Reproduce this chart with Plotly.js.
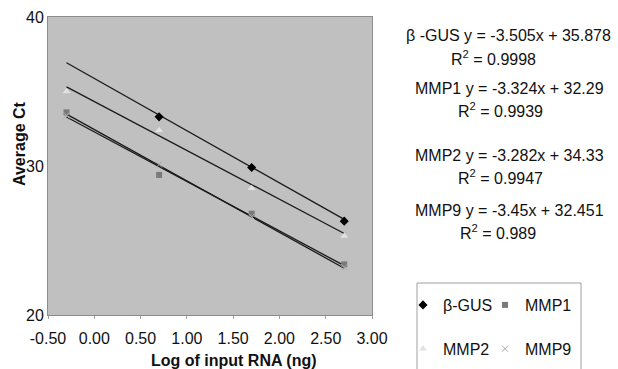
<!DOCTYPE html>
<html>
<head>
<meta charset="utf-8">
<script src="https://cdn.plot.ly/plotly-3.0.1.min.js"></script>
<style>html,body{margin:0;padding:0;background:#fff;}#chart{width:618px;height:369px;}</style>
</head>
<body>
<div id="chart"></div>
<script>
// ---- data ----
var logRNA = [-0.3, 0.7, 1.7, 2.7];
var gusCt  = [null, 33.3, 29.9, 26.3];
var mmp1Ct = [33.6, 29.4, 26.8, 23.4];
var mmp2Ct = [35.0, 32.4, 28.5, 25.3];
var mmp9Ct = [33.4, 30.1, 26.6, 23.2];

var seriesNames = ['β-GUS', 'MMP1', 'MMP2', 'MMP9'];
var eqLabels    = ['β -GUS', 'MMP1', 'MMP2', 'MMP9'];
var slopes      = [-3.505, -3.324, -3.282, -3.45];
var intercepts  = [35.878, 32.29, 34.33, 32.451];
var rSquared    = [0.9998, 0.9939, 0.9947, 0.989];

var xTickVals = [-0.5, 0, 0.5, 1, 1.5, 2, 2.5, 3];
var xTickText = ['-0.50', '0.00', '0.50', '1.00', '1.50', '2.00', '2.50', '3.00'];
var yTickVals = [20, 30, 40];

// ---- layout helpers (pixel -> paper) ----
var L = 48, R = 372, T = 17, B = 315;
function px(x) { return (x - L) / (R - L); }
function py(y) { return (B - y) / (B - T); }

var FONT = 'Liberation Sans, Arial, sans-serif';
var allCt = [gusCt, mmp1Ct, mmp2Ct, mmp9Ct];
var markers = [
  {symbol: 'diamond', color: '#000000', size: 7},
  {symbol: 'square', color: '#7a7a7a', size: 6},
  {symbol: 'triangle-up', color: '#e2e2e2', size: 7},
  {symbol: 'x-thin', color: '#a8a8a8', size: 6, line: {color: '#a8a8a8', width: 1}}
];
var legendOf = ['legend', 'legend2', 'legend', 'legend2'];

var traces = [];
// trendlines
for (var i = 0; i < 4; i++) {
  var x0 = logRNA[0], x1 = logRNA[logRNA.length - 1];
  traces.push({
    x: [x0, x1],
    y: [slopes[i] * x0 + intercepts[i], slopes[i] * x1 + intercepts[i]],
    mode: 'lines', type: 'scatter', showlegend: false, hoverinfo: 'skip',
    line: {color: '#1a1a1a', width: 1.3}
  });
}
// points
for (var j = 0; j < 4; j++) {
  traces.push({
    x: logRNA, y: allCt[j], name: seriesNames[j],
    mode: 'markers', type: 'scatter',
    marker: markers[j], legend: legendOf[j], legendgroup: 'g' + j
  });
}

var eqY = [35, 88, 155, 210];
var eqX = [508, 510, 510, 510];
var r2Y = [58, 110, 177, 232];
var r2X = [494, 500, 500, 498];
var annotations = [];
for (var k = 0; k < 4; k++) {
  annotations.push({
    xref: 'paper', yref: 'paper', x: px(eqX[k]), y: py(eqY[k]),
    xanchor: 'center', yanchor: 'middle', showarrow: false,
    text: eqLabels[k] + ' y = ' + String(slopes[k]) + 'x + ' + String(intercepts[k]),
    font: {family: FONT, size: 16, color: '#111'}
  });
  annotations.push({
    xref: 'paper', yref: 'paper', x: px(r2X[k]), y: py(r2Y[k]),
    xanchor: 'center', yanchor: 'middle', showarrow: false,
    text: 'R<sup>2</sup> = ' + String(rSquared[k]),
    font: {family: FONT, size: 16, color: '#111'}
  });
}
annotations.push({
  xref: 'paper', yref: 'paper', x: px(19), y: py(144), textangle: -90,
  xanchor: 'center', yanchor: 'middle', showarrow: false,
  text: '<b>Average Ct</b>', font: {family: FONT, size: 16, color: '#111'}
});
annotations.push({
  xref: 'paper', yref: 'paper', x: px(234), y: py(360),
  xanchor: 'center', yanchor: 'middle', showarrow: false,
  text: '<b>Log of input RNA (ng)</b>', font: {family: FONT, size: 16, color: '#111'}
});

var legendCommon = {
  orientation: 'v', bgcolor: 'rgba(0,0,0,0)', borderwidth: 0,
  font: {family: FONT, size: 16, color: '#111'},
  traceorder: 'grouped', tracegroupgap: 20,
  xanchor: 'left', yanchor: 'top', itemwidth: 30
};

var layout = {
  width: 618, height: 369,
  margin: {l: L, r: 618 - R, t: T, b: 369 - B, pad: 0, autoexpand: false},
  paper_bgcolor: '#ffffff', plot_bgcolor: '#c0c0c0',
  font: {family: FONT, size: 16, color: '#111'},
  showlegend: true,
  legend: Object.assign({}, legendCommon, {x: px(403), y: py(288)}),
  legend2: Object.assign({}, legendCommon, {x: px(485), y: py(288)}),
  xaxis: {
    range: [-0.5, 3], tickvals: xTickVals, ticktext: xTickText,
    showgrid: false, zeroline: false, showline: true, mirror: true,
    linecolor: '#8c8c8c', linewidth: 1, ticks: 'outside', ticklen: 3, tickcolor: '#a0a0a0',
    ticklabelstandoff: 6, automargin: false,
    tickfont: {family: FONT, size: 16, color: '#111'}
  },
  yaxis: {
    range: [20, 40], tickvals: yTickVals,
    showgrid: false, zeroline: false, showline: true, mirror: true,
    linecolor: '#8c8c8c', linewidth: 1, ticks: '', automargin: false,
    tickfont: {family: FONT, size: 16, color: '#111'}
  },
  shapes: [{
    type: 'rect', xref: 'paper', yref: 'paper',
    x0: px(417), x1: px(581), y0: py(283), y1: py(380),
    line: {color: '#a0a0a0', width: 1}, fillcolor: 'rgba(0,0,0,0)'
  }],
  annotations: annotations
};

Plotly.newPlot('chart', traces, layout, {staticPlot: true, displayModeBar: false});
</script>
</body>
</html>
